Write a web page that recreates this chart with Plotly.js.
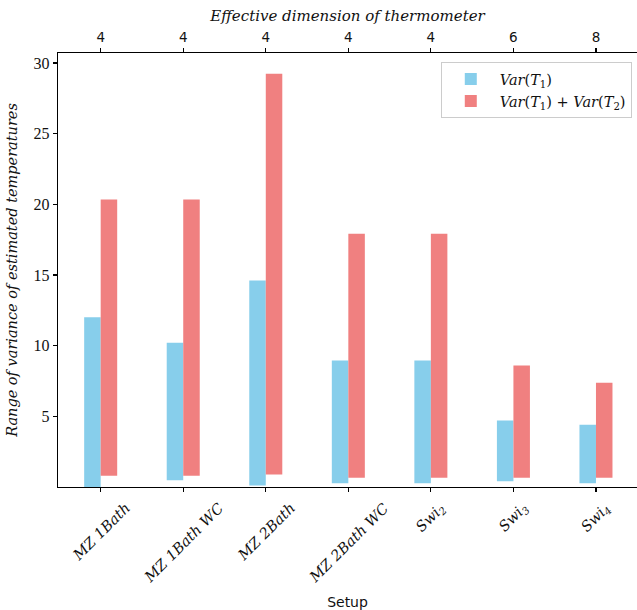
<!DOCTYPE html>
<html><head><meta charset="utf-8">
<script src="https://cdn.plot.ly/plotly-3.0.1.min.js"></script>
<style>body{margin:0;padding:0;background:#fff}#chart{width:637px;height:610px}</style>
</head><body><div id="chart"></div>
<script>
const setups = ["MZ 1Bath", "MZ 1Bath WC", "MZ 2Bath", "MZ 2Bath WC", "Swi<sub>2</sub>", "Swi<sub>3</sub>", "Swi<sub>4</sub>"];
const dims = ["4", "4", "4", "4", "4", "6", "8"];
const var1Low = [0.0, 0.47, 0.1, 0.26, 0.26, 0.4, 0.26];
const var1High = [12.0, 10.21, 14.6, 8.94, 8.94, 4.7, 4.41];
const varSumLow = [0.8, 0.8, 0.88, 0.66, 0.66, 0.66, 0.66];
const varSumHigh = [20.33, 20.33, 29.24, 17.92, 17.92, 8.6, 7.38];

const serif = "DejaVu Serif, serif";
const serifUp = "Liberation Serif, serif";
const sans = "DejaVu Sans, sans-serif";
const idx = setups.map((_, i) => i);

const t1 = {
  type: "bar", x: idx, base: var1Low, y: var1High.map((v, i) => v - var1Low[i]),
  width: 0.2, offset: -0.2, marker: {color: "#87CEEB", line: {width: 0}},
  name: "<i>Var</i>(<i>T</i><sub>1</sub>)", hoverinfo: "skip"
};
const t2 = {
  type: "bar", x: idx, base: varSumLow, y: varSumHigh.map((v, i) => v - varSumLow[i]),
  width: 0.2, offset: 0, marker: {color: "#F08080", line: {width: 0}},
  name: "<i>Var</i>(<i>T</i><sub>1</sub>) + <i>Var</i>(<i>T</i><sub>2</sub>)", hoverinfo: "skip"
};
const dummy = {type: "scatter", x: [0], y: [null], xaxis: "x2", showlegend: false, hoverinfo: "skip"};

// rotated category labels, centred on each tick like the reference
const labelAnnots = setups.map((s, i) => ({
  x: idx[i], xref: "x", y: 0, yref: "paper",
  text: "<i>" + s + "</i>", showarrow: false, textangle: -45,
  xanchor: "center", yanchor: "top", yshift: -10,
  font: {family: serif, size: 14.5, color: "#111", style: "italic"}
}));

const xr = [-0.517, 6.497];
const layout = {
  width: 637, height: 610,
  margin: {l: 58, r: 0, t: 53, b: 123},
  paper_bgcolor: "#fff", plot_bgcolor: "#fff",
  barmode: "overlay",
  showlegend: true,
  legend: {
    x: 0.991, y: 0.979, xanchor: "right", yanchor: "top",
    bgcolor: "rgba(255,255,255,0.8)", bordercolor: "#cccccc", borderwidth: 1,
    font: {family: serif, size: 14.5, color: "#111"},
    itemwidth: 48, tracegroupgap: 2
  },
  annotations: labelAnnots,
  xaxis: {
    range: xr, tickmode: "array", tickvals: idx, showticklabels: false,
    ticks: "outside", ticklen: 4, tickwidth: 1.2, tickcolor: "#000",
    showline: true, linecolor: "#000", linewidth: 1.4, mirror: false,
    showgrid: false, zeroline: false,
    title: {text: "Setup", font: {family: sans, size: 14, color: "#111"}, standoff: 105}
  },
  xaxis2: {
    overlaying: "x", side: "top", range: xr, tickmode: "array", tickvals: idx, ticktext: dims,
    ticks: "outside", ticklen: 4, tickwidth: 1.2, tickcolor: "#000",
    showline: true, linecolor: "#000", linewidth: 1.4,
    showgrid: false, zeroline: false,
    tickfont: {family: sans, size: 13.5, color: "#111"},
    title: {text: "Effective dimension of thermometer", font: {family: serif, size: 15, color: "#111", style: "italic"}, standoff: 4}
  },
  yaxis: {
    range: [0, 30.7], tickvals: [5, 10, 15, 20, 25, 30],
    ticks: "outside", ticklen: 4, tickwidth: 1.2, tickcolor: "#000",
    showline: true, linecolor: "#000", linewidth: 1.4,
    showgrid: false, zeroline: false,
    tickfont: {family: serifUp, size: 16, color: "#111"},
    title: {text: "Range of variance of estimated temperatures", font: {family: serif, size: 14.5, color: "#111", style: "italic"}, standoff: 12}
  }
};
Plotly.newPlot("chart", [t1, t2, dummy], layout, {displayModeBar: false, staticPlot: true});
</script></body></html>
